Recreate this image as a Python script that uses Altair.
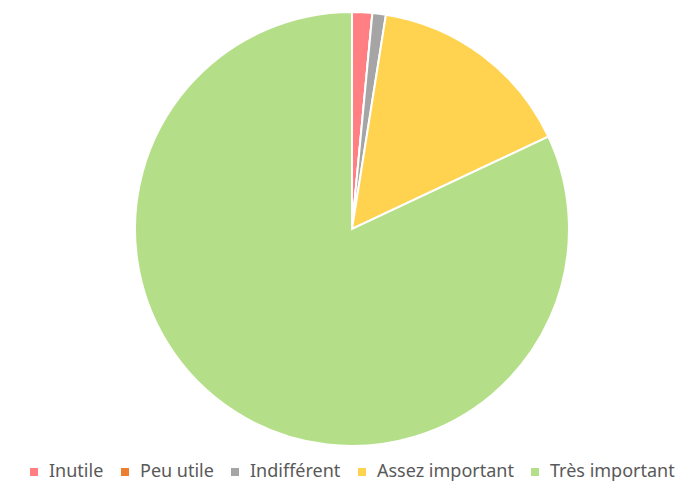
import altair as alt
import pandas as pd

categories = ["Inutile", "Peu utile", "Indifférent", "Assez important", "Très important"]
values = [1.5, 0.0, 1.0, 15.5, 82.0]
colors = ["#FF7F82", "#ED7D31", "#A5A5A5", "#FFD34F", "#B4DF88"]

df = pd.DataFrame({"cat": categories, "val": values, "ord": list(range(len(categories)))})

chart = alt.Chart(df).mark_arc(
    outerRadius=217, stroke="white", strokeWidth=2
).encode(
    theta=alt.Theta("val:Q", stack=True),
    order=alt.Order("ord:Q"),
    color=alt.Color(
        "cat:N",
        scale=alt.Scale(domain=categories, range=colors),
        sort=categories,
        legend=alt.Legend(
            title=None,
            orient="none",
            direction="horizontal",
            legendX=17,
            legendY=454,
            padding=0,
            symbolType="square",
            symbolSize=64,
            symbolStrokeWidth=0,
            labelFont="Noto Sans",
            labelFontSize=18,
            labelColor="#595959",
            labelOffset=6,
            columnPadding=12,
        ),
    ),
    x=alt.value(344),
    y=alt.value(220),
).properties(
    width=664, height=450, padding=0
).configure_view(stroke=None)

chart.save("out.html", embed_options={"renderer": "svg", "actions": False})
